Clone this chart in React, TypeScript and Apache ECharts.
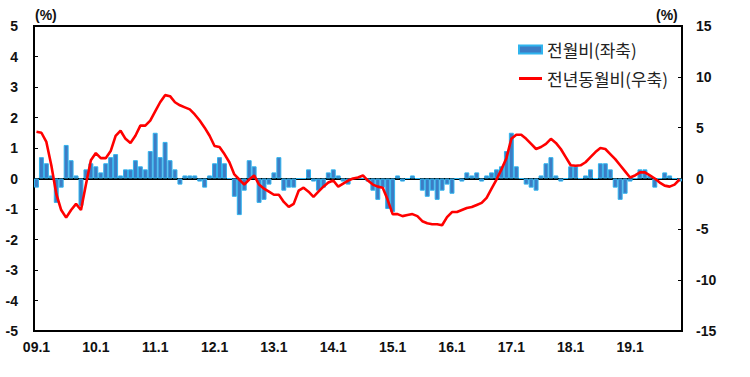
import React, { useEffect, useRef } from "react";
import * as echarts from "echarts";

const years = ["09", "10", "11", "12", "13", "14", "15", "16", "17", "18", "19"];
const categories: string[] = [];
years.forEach((y) => {
  for (let m = 1; m <= 12; m++) categories.push(`${y}.${m}`);
});
categories.length = 131;

// 전월비 (좌축, %)
const momValues = [
  -0.3, 0.7, 0.5, 0.1, -0.8, -0.3, 1.1, 0.6, 0.1, -0.9, 0.3, 0.5,
  0.4, 0.2, 0.5, 0.7, 0.8, 0.1, 0.3, 0.3, 0.6, 0.4, 0.3, 0.9,
  1.5, 0.7, 1.2, 0.6, 0.3, -0.2, 0.1, 0.1, 0.1, -0.1, -0.3, 0.1,
  0.5, 0.7, 0.5, 0.0, -0.6, -1.2, -0.4, 0.6, 0.4, -0.8, -0.7, -0.2,
  0.2, 0.7, -0.4, -0.3, -0.3, 0.0, 0.0, 0.3, -0.1, -0.4, -0.3, 0.2,
  0.3, 0.1, -0.1, -0.2, 0.0, 0.0, 0.0, -0.1, -0.4, -0.7, -0.3, -1.0,
  -1.1, 0.1, -0.1, 0.0, 0.1, 0.0, -0.4, -0.6, -0.4, -0.7, -0.4, -0.2,
  -0.5, 0.0, -0.1, 0.2, 0.1, 0.2, -0.1, 0.1, 0.2, 0.3, 0.4, 0.9,
  1.5, 0.4, 0.0, -0.2, -0.3, -0.4, 0.1, 0.5, 0.7, 0.1, -0.1, 0.0,
  0.4, 0.4, 0.0, 0.1, 0.3, 0.0, 0.5, 0.5, 0.3, -0.3, -0.7, -0.5,
  -0.1, 0.0, 0.3, 0.3, 0.1, -0.3, 0.0, 0.2, 0.1, 0.0, -0.1,
];

// 전년동월비 (우축, %)
const yoyValues = [
  4.6, 4.5, 3.6, 1.3, -1.5, -3.1, -3.85, -3.1, -2.5, -3.1, -0.6, 1.8,
  2.5, 2.0, 2.0, 2.7, 4.2, 4.7, 3.9, 3.5, 4.2, 5.2, 5.2, 5.7,
  6.6, 7.5, 8.2, 8.1, 7.5, 7.2, 7.0, 6.8, 6.3, 5.7, 5.0, 4.2,
  3.2, 3.1, 2.4, 1.6, 0.4, -0.1, -0.6, -0.1, 0.3, -0.6, -1.0, -1.3,
  -1.6, -1.6, -2.3, -2.8, -2.5, -1.2, -0.9, -1.3, -1.8, -1.3, -0.8, -0.4,
  -0.2, -0.8, -0.5, -0.2, 0.0, 0.1, 0.3, -0.2, -0.6, -0.8, -0.9, -2.1,
  -3.5, -3.5, -3.7, -3.6, -3.5, -3.7, -4.2, -4.4, -4.5, -4.5, -4.6, -3.8,
  -3.3, -3.3, -3.1, -2.9, -2.8, -2.6, -2.4, -1.9, -1.0, -0.1, 0.9, 2.0,
  3.9, 4.3, 4.3, 3.9, 3.4, 2.9, 3.1, 3.4, 3.9, 3.5, 2.9, 2.1,
  1.3, 1.25, 1.3, 1.6, 2.1, 2.6, 3.0, 2.9, 2.4, 1.9, 1.3, 0.7,
  0.1, 0.3, 0.6, 0.6, 0.3, 0.0, -0.4, -0.7, -0.8, -0.6, -0.1,
];

const seriesNames = ["전월비(좌축)", "전년동월비(우축)"];

const axisFont = {
  fontFamily: "Liberation Sans, Arial, sans-serif",
  fontWeight: "bold" as const,
  color: "#111",
};

// split line colours for left-axis ticks -5..5: only the zero line is drawn
const splitColors = ["none", "none", "none", "none", "none", "#a8a8a8", "none", "none", "none", "none", "none"];

export default function App() {
  const ref = useRef<HTMLDivElement>(null);
  useEffect(() => {
    if (!ref.current) return;
    const chart = echarts.init(ref.current, undefined, { renderer: "svg" });
    chart.setOption({
      animation: false,
      backgroundColor: "#fff",
      grid: {
        left: 34,
        right: 68,
        top: 26,
        bottom: 46,
        show: true,
        borderColor: "#000",
        borderWidth: 2,
        backgroundColor: "transparent",
      },
      legend: {
        orient: "vertical",
        left: 513,
        top: 36,
        itemWidth: 23,
        itemHeight: 8,
        itemGap: 12,
        textStyle: {
          fontFamily: "Noto Sans CJK KR, sans-serif",
          fontSize: 17,
          color: "#222",
        },
        data: [
          { name: seriesNames[0], icon: "rect" },
          { name: seriesNames[1], icon: "path://M0 0 H23 V3 H0 Z" },
        ],
      },
      graphic: [
        {
          type: "text",
          left: 35,
          top: 8,
          style: { text: "(%)", font: "bold 14px Liberation Sans, Arial, sans-serif", fill: "#111" },
        },
        {
          type: "text",
          left: 656,
          top: 8,
          style: { text: "(%)", font: "bold 14px Liberation Sans, Arial, sans-serif", fill: "#111" },
        },
      ],
      xAxis: {
        type: "category",
        data: categories,
        boundaryGap: true,
        axisLine: { lineStyle: { color: "#000", width: 2 } },
        axisTick: { show: false },
        axisLabel: {
          ...axisFont,
          fontSize: 14,
          interval: 11,
          margin: 9,
        },
        splitLine: { show: false },
      },
      yAxis: [
        {
          type: "value",
          min: -5,
          max: 5,
          interval: 1,
          position: "left",
          axisLine: { show: true, lineStyle: { color: "#000", width: 2 } },
          axisTick: { show: true, inside: true, length: 4, lineStyle: { color: "#000" } },
          axisLabel: { ...axisFont, fontSize: 14, margin: 16 },
          splitLine: { show: true, lineStyle: { color: splitColors, width: 2 } },
        },
        {
          type: "value",
          min: -15,
          max: 15,
          interval: 5,
          position: "right",
          axisLine: { show: true, lineStyle: { color: "#000", width: 2 } },
          axisTick: { show: true, inside: true, length: 4, lineStyle: { color: "#000" } },
          axisLabel: { ...axisFont, fontSize: 14, margin: 14 },
          splitLine: { show: false },
        },
      ],
      series: [
        {
          name: seriesNames[0],
          type: "bar",
          yAxisIndex: 0,
          data: momValues,
          barCategoryGap: "0%",
          itemStyle: {
            color: "#3d7cc4",
            borderColor: "#2fb4ee",
            borderWidth: 1,
          },
          z: 2,
        },
        {
          name: seriesNames[1],
          type: "line",
          yAxisIndex: 1,
          data: yoyValues,
          symbol: "none",
          lineStyle: { color: "#ff0000", width: 2.6 },
          itemStyle: { color: "#ff0000" },
          z: 5,
        },
      ],
    });
    return () => chart.dispose();
  }, []);
  return (
    <div
      ref={ref}
      style={{ position: "fixed", left: 0, top: 0, width: 750, height: 377 }}
    />
  );
}
